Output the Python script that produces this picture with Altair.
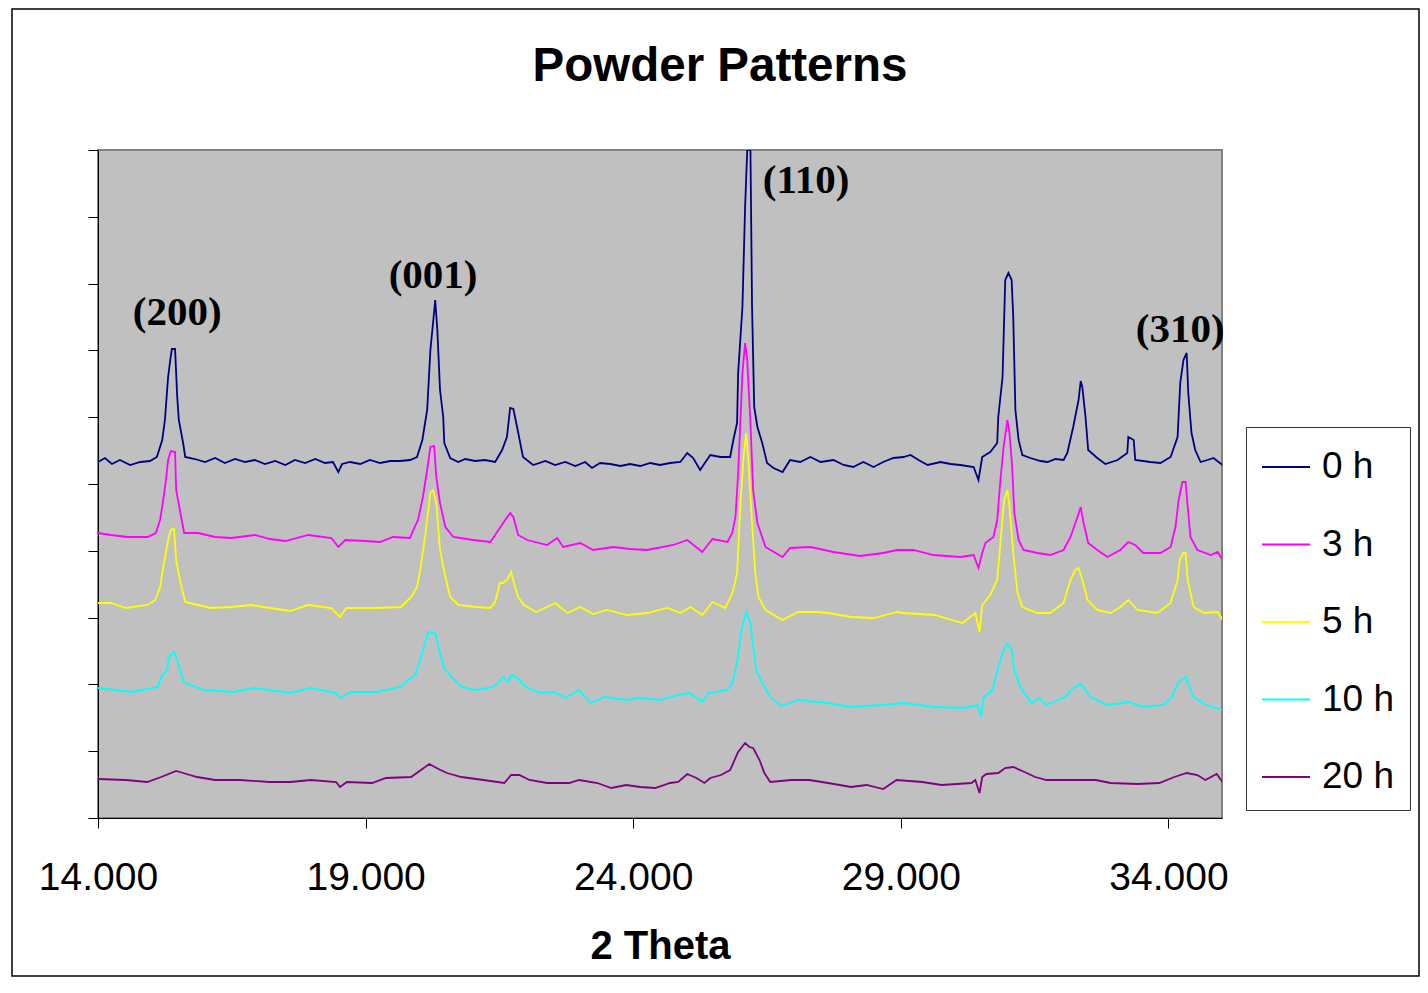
import altair as alt
import pandas as pd

SERIES = ["0 h", "3 h", "5 h", "10 h", "20 h"]
COLORS = ["#000080", "#FF00FF", "#FFFF00", "#00FFFF", "#800080"]

X_TICKS = [14, 19, 24, 29, 34]
Y_TICKS = [0, 66.8, 133.6, 200.4, 267.2, 334, 400.8, 467.6, 534.4, 601.2, 668]

x_0h = [14.00, 14.13, 14.26, 14.41, 14.60, 14.79, 14.97, 15.10, 15.20, 15.25,
        15.31, 15.35, 15.38, 15.44, 15.48, 15.51, 15.59, 15.63, 15.81, 16.00,
        16.19, 16.37, 16.56, 16.75, 16.93, 17.12, 17.31, 17.50, 17.68, 17.87,
        18.06, 18.24, 18.39, 18.49, 18.56, 18.71, 18.90, 19.08, 19.27, 19.46,
        19.64, 19.83, 19.96, 20.06, 20.15, 20.21, 20.26, 20.30, 20.34, 20.39,
        20.45, 20.47, 20.58, 20.73, 20.86, 21.05, 21.23, 21.42, 21.55, 21.64,
        21.70, 21.76, 21.83, 21.94, 22.13, 22.36, 22.54, 22.73, 22.92, 23.10,
        23.23, 23.38, 23.57, 23.76, 23.94, 24.13, 24.32, 24.50, 24.69, 24.88,
        25.01, 25.12, 25.25, 25.35, 25.44, 25.63, 25.81, 25.87, 25.94, 25.96,
        26.04, 26.09, 26.13, 26.19, 26.22, 26.26, 26.32, 26.41, 26.50, 26.62,
        26.79, 26.93, 27.12, 27.31, 27.50, 27.74, 27.93, 28.11, 28.30, 28.49,
        28.67, 28.86, 29.05, 29.18, 29.33, 29.50, 29.74, 29.93, 30.11, 30.36,
        30.45, 30.52, 30.67, 30.80, 30.82, 30.90, 30.95, 31.01, 31.07, 31.10,
        31.14, 31.20, 31.27, 31.42, 31.61, 31.74, 31.89, 32.04, 32.11, 32.22,
        32.32, 32.36, 32.39, 32.45, 32.50, 32.67, 32.82, 33.05, 33.23, 33.25,
        33.35, 33.38, 33.66, 33.85, 34.04, 34.17, 34.22, 34.28, 34.34, 34.37,
        34.43, 34.50, 34.60, 34.73, 34.84, 35.01]
y_0h = [356, 360, 354, 358, 353, 356, 357, 361, 378, 398,
        441, 458, 469, 469, 421, 398, 375, 361, 359, 356,
        360, 355, 359, 356, 358, 354, 357, 353, 358, 355,
        359, 355, 356, 346, 354, 356, 354, 358, 355, 357,
        357, 358, 361, 378, 408, 468, 495, 518, 488, 428,
        401, 375, 360, 356, 359, 357, 358, 356, 368, 381,
        410, 409, 391, 361, 353, 357, 353, 356, 352, 356,
        350, 355, 354, 352, 354, 352, 355, 353, 355, 356,
        365, 360, 348, 356, 363, 361, 361, 378, 395, 445,
        511, 611, 668, 668, 511, 411, 391, 375, 355, 350,
        346, 358, 356, 361, 356, 358, 353, 351, 356, 351,
        356, 360, 361, 363, 358, 353, 356, 354, 353, 351,
        338, 361, 366, 375, 401, 441, 538, 545, 538, 501,
        408, 378, 363, 360, 357, 356, 359, 358, 365, 391,
        418, 437, 431, 401, 368, 360, 354, 358, 365, 381,
        378, 358, 356, 355, 361, 381, 435, 458, 465, 425,
        385, 368, 356, 358, 360, 353]

x_3h = [14.00, 14.24, 14.56, 14.93, 15.08, 15.16, 15.21, 15.27, 15.31, 15.36,
        15.44, 15.46, 15.53, 15.61, 15.87, 16.19, 16.49, 16.93, 17.21, 17.50,
        17.93, 18.36, 18.49, 18.62, 18.99, 19.27, 19.51, 19.83, 19.89, 19.98,
        20.07, 20.15, 20.21, 20.28, 20.32, 20.39, 20.49, 20.64, 21.01, 21.33,
        21.42, 21.57, 21.70, 21.76, 21.85, 22.02, 22.39, 22.58, 22.69, 23.01,
        23.25, 23.63, 23.94, 24.26, 24.75, 25.01, 25.29, 25.48, 25.76, 25.85,
        25.91, 25.96, 26.04, 26.09, 26.13, 26.19, 26.24, 26.32, 26.47, 26.79,
        26.93, 27.31, 27.74, 28.24, 28.67, 28.93, 29.23, 29.61, 30.11, 30.36,
        30.45, 30.52, 30.58, 30.73, 30.80, 30.86, 30.92, 30.99, 31.03, 31.08,
        31.12, 31.20, 31.29, 31.55, 31.79, 32.04, 32.17, 32.30, 32.36, 32.41,
        32.50, 32.67, 32.86, 33.10, 33.25, 33.38, 33.53, 33.85, 34.04, 34.13,
        34.19, 34.26, 34.32, 34.36, 34.41, 34.54, 34.79, 34.92, 35.01]
y_3h = [285, 283, 281, 281, 285, 298, 315, 338, 358, 367,
        366, 328, 308, 285, 285, 281, 280, 283, 279, 277,
        283, 280, 271, 278, 277, 276, 281, 280, 288, 298,
        321, 348, 371, 372, 341, 315, 291, 281, 278, 276,
        283, 295, 305, 301, 283, 278, 273, 280, 271, 275,
        268, 271, 269, 268, 273, 278, 266, 279, 276, 285,
        301, 345, 445, 475, 458, 395, 328, 295, 271, 261,
        270, 271, 266, 262, 265, 268, 268, 263, 261, 263,
        250, 265, 275, 281, 298, 338, 371, 398, 385, 351,
        305, 278, 268, 265, 263, 268, 281, 301, 311, 296,
        275, 268, 261, 268, 276, 273, 265, 265, 271, 291,
        318, 336, 336, 311, 281, 268, 263, 266, 258]

x_5h = [14.00, 14.24, 14.52, 14.93, 15.07, 15.16, 15.21, 15.31, 15.36, 15.42,
        15.46, 15.53, 15.63, 15.87, 16.11, 16.49, 16.86, 17.21, 17.59, 17.93,
        18.36, 18.52, 18.64, 19.20, 19.66, 19.85, 19.96, 20.02, 20.11, 20.21,
        20.26, 20.32, 20.39, 20.49, 20.58, 20.73, 21.05, 21.33, 21.42, 21.51,
        21.57, 21.64, 21.72, 21.79, 21.85, 21.96, 22.19, 22.54, 22.77, 23.01,
        23.25, 23.51, 23.89, 24.26, 24.64, 24.88, 25.07, 25.29, 25.48, 25.72,
        25.81, 25.87, 25.94, 26.00, 26.06, 26.11, 26.15, 26.22, 26.28, 26.34,
        26.47, 26.79, 27.08, 27.44, 27.64, 28.07, 28.49, 28.93, 29.05, 29.63,
        30.15, 30.39, 30.47, 30.52, 30.67, 30.80, 30.86, 30.93, 30.99, 31.03,
        31.10, 31.18, 31.27, 31.55, 31.79, 32.04, 32.17, 32.26, 32.32, 32.39,
        32.49, 32.67, 32.92, 33.10, 33.25, 33.42, 33.79, 34.04, 34.17, 34.21,
        34.28, 34.32, 34.36, 34.47, 34.66, 34.92, 35.01]
y_5h = [215, 215, 210, 213, 218, 231, 248, 278, 288, 289,
        258, 238, 216, 213, 210, 211, 213, 210, 207, 213,
        210, 201, 210, 210, 211, 221, 231, 248, 281, 325,
        328, 315, 268, 241, 221, 213, 211, 210, 216, 235,
        235, 238, 246, 231, 221, 213, 206, 215, 205, 211,
        204, 208, 203, 205, 210, 205, 211, 203, 216, 210,
        220, 228, 245, 311, 361, 385, 358, 295, 245, 221,
        208, 198, 206, 206, 205, 201, 200, 206, 205, 203,
        195, 205, 186, 213, 223, 238, 275, 318, 328, 311,
        265, 225, 211, 205, 205, 215, 238, 248, 250, 238,
        218, 208, 205, 211, 218, 208, 205, 215, 238, 258,
        265, 265, 238, 211, 205, 206, 198]

x_10h = [14.00, 14.65, 15.12, 15.18, 15.29, 15.33, 15.42, 15.46, 15.59, 15.63,
         15.98, 16.52, 16.92, 17.59, 17.98, 18.45, 18.52, 18.73, 19.20, 19.66,
         19.72, 19.93, 20.02, 20.17, 20.30, 20.36, 20.47, 20.60, 20.79, 21.07,
         21.40, 21.57, 21.66, 21.72, 21.83, 22.00, 22.26, 22.52, 22.73, 22.99,
         23.20, 23.46, 23.87, 24.13, 24.49, 24.84, 25.05, 25.29, 25.40, 25.76,
         25.85, 25.94, 26.02, 26.11, 26.19, 26.24, 26.30, 26.41, 26.56, 26.77,
         27.08, 27.64, 28.07, 28.64, 29.05, 29.63, 30.19, 30.43, 30.50, 30.54,
         30.71, 30.82, 30.92, 30.99, 31.07, 31.12, 31.23, 31.44, 31.59, 31.72,
         32.07, 32.22, 32.37, 32.54, 32.86, 33.27, 33.50, 33.91, 34.06, 34.19,
         34.32, 34.47, 34.70, 35.01]
y_10h = [130, 126, 131, 141, 148, 161, 166, 161, 138, 135,
         128, 126, 130, 125, 130, 125, 120, 126, 126, 131,
         135, 143, 158, 186, 185, 171, 150, 141, 131, 128,
         131, 141, 136, 143, 140, 131, 125, 126, 120, 128,
         115, 121, 118, 120, 118, 123, 125, 116, 125, 128,
         135, 155, 188, 206, 195, 171, 148, 135, 121, 112,
         118, 115, 111, 113, 115, 111, 110, 113, 101, 120,
         128, 151, 168, 174, 168, 148, 131, 115, 120, 113,
         121, 130, 134, 121, 113, 116, 111, 113, 121, 136,
         141, 121, 113, 108]

x_20h = [14.00, 14.52, 14.92, 15.18, 15.46, 15.59, 15.85, 16.19, 16.65, 17.20,
         17.59, 17.98, 18.45, 18.52, 18.65, 19.12, 19.38, 19.85, 20.06, 20.19,
         20.36, 20.52, 20.79, 21.20, 21.59, 21.72, 21.87, 22.06, 22.39, 22.80,
         22.99, 23.33, 23.59, 23.87, 24.13, 24.41, 24.69, 24.84, 25.01, 25.18,
         25.33, 25.44, 25.64, 25.81, 25.96, 26.09, 26.17, 26.24, 26.36, 26.45,
         26.56, 26.95, 27.29, 27.64, 28.07, 28.36, 28.67, 28.92, 29.40, 29.76,
         30.32, 30.39, 30.47, 30.52, 30.60, 30.82, 30.95, 31.10, 31.31, 31.51,
         31.72, 32.22, 32.64, 32.92, 33.42, 33.83, 34.11, 34.34, 34.54, 34.69,
         34.90, 35.01]
y_20h = [39, 38, 36, 41, 47, 45, 41, 38, 38, 36,
         36, 38, 36, 31, 36, 35, 40, 41, 49, 54,
         49, 45, 41, 38, 35, 43, 43, 38, 35, 35,
         38, 35, 30, 33, 31, 30, 35, 36, 44, 40,
         35, 40, 43, 48, 66, 75, 71, 70, 58, 45,
         36, 38, 38, 35, 31, 33, 29, 38, 36, 33,
         35, 38, 25, 41, 44, 45, 50, 51, 46, 41,
         38, 38, 38, 35, 34, 35, 41, 45, 43, 38,
         44, 36]

PEAK_LABELS = ["(200)", "(001)", "(110)", "(310)"]
PEAK_X = [15.48, 20.26, 27.23, 34.22]
PEAK_Y = [505, 542, 637, 488]

rows = []
for name, xs, ys in zip(SERIES, [x_0h, x_3h, x_5h, x_10h, x_20h],
                        [y_0h, y_3h, y_5h, y_10h, y_20h]):
    for i, (a, b) in enumerate(zip(xs, ys)):
        rows.append({"theta": a, "intensity": b, "series": name, "idx": i})
df = pd.DataFrame(rows)

ann = pd.DataFrame({"label": PEAK_LABELS, "theta": PEAK_X, "intensity": PEAK_Y})

x_scale = alt.Scale(domain=[14, 35], nice=False, zero=False)
y_scale = alt.Scale(domain=[0, 668], nice=False, zero=False)

lines = alt.Chart(df).mark_line(strokeWidth=1.8, clip=True).encode(
    x=alt.X("theta:Q", scale=x_scale,
            axis=alt.Axis(values=X_TICKS, format=".3f", title="2 Theta",
                          grid=False, tickSize=10, tickColor="black",
                          domainColor="black", labelFontSize=39,
                          labelFont="Liberation Sans", labelColor="black",
                          labelPadding=30, titleFontSize=40,
                          titleFont="Liberation Sans", titleFontWeight="bold",
                          titleColor="black", titlePadding=29,
                          labelFlush=False, labelOverlap=False)),
    y=alt.Y("intensity:Q", scale=y_scale,
            axis=alt.Axis(values=Y_TICKS, labels=False, title=None, grid=False,
                          tickSize=10, tickColor="black", domainColor="black")),
    color=alt.Color("series:N",
                    scale=alt.Scale(domain=SERIES, range=COLORS),
                    legend=alt.Legend(title=None, orient="none", legendX=1148,
                                      legendY=277, fillColor="white",
                                      strokeColor="#333333", padding=15,
                                      symbolType="stroke", symbolSize=2304,
                                      symbolStrokeWidth=2, labelFontSize=37,
                                      labelFont="Liberation Sans",
                                      labelColor="black", labelOffset=11,
                                      rowPadding=34.5)),
    order="idx:Q",
)

labels = alt.Chart(ann).mark_text(font="Liberation Serif", fontWeight="bold",
                                  fontSize=41, baseline="middle",
                                  align="center", color="black").encode(
    x=alt.X("theta:Q", scale=x_scale),
    y=alt.Y("intensity:Q", scale=y_scale),
    text="label:N",
)

title = alt.Chart(alt.Data(values=[{"t": "Powder Patterns"}])).mark_text(
    font="Liberation Sans", fontWeight="bold", fontSize=47.5,
    baseline="middle", align="center", color="black").encode(
    x=alt.value(622), y=alt.value(-83), text="t:N")

frame = alt.Chart(alt.Data(values=[{}])).mark_rect(
    fill="white", fillOpacity=0, stroke="black", strokeWidth=1.5).encode(
    x=alt.value(-86), x2=alt.value(1321), y=alt.value(-141), y2=alt.value(826))

chart = alt.layer(frame, lines, labels, title).properties(
    width=1124, height=668, autosize="none", background="white",
    padding={"left": 90, "top": 142, "right": 198, "bottom": 160},
).configure_view(fill="#C0C0C0", stroke="#808080", strokeWidth=2)

chart.save("out.html", embed_options={"renderer": "svg", "actions": False})
